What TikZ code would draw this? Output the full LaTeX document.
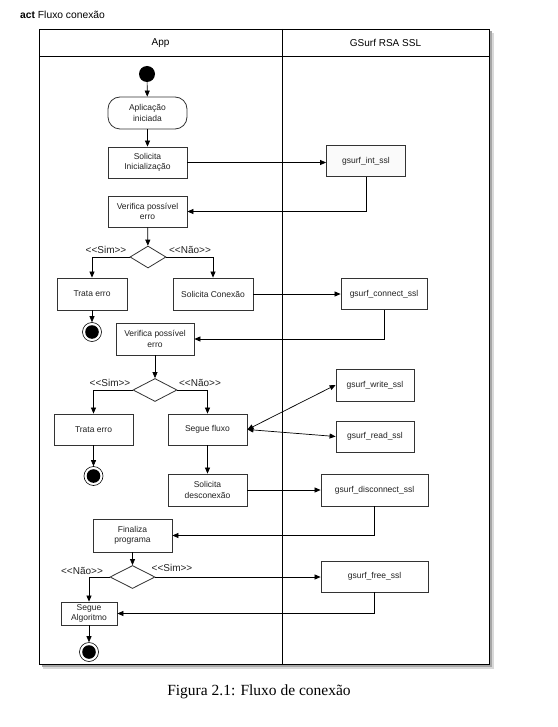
\documentclass[tikz,border=0pt]{standalone}
\usepackage{fontspec}
\setmainfont{Liberation Sans}
\newfontfamily\capfont{Liberation Serif}
\usetikzlibrary{arrows.meta,shapes.geometric,calc}
\definecolor{boxline}{HTML}{333333}
\definecolor{boxtext}{HTML}{222222}
\tikzset{
  act/.style={draw=boxline, line width=0.8pt, fill=white, align=center, inner sep=1pt,
    text=boxtext, font=\fontsize{8.5}{10.5}\selectfont},
  rbox/.style={act, rounded corners=12pt},
  dec/.style={diamond, draw=boxline, line width=0.8pt, fill=white, inner sep=0pt},
  startnode/.style={circle, fill=black, minimum size=16pt, inner sep=0pt},
  endnode/.style={circle, draw=black, line width=0.6pt, fill=white, minimum size=19pt, inner sep=0pt,
    path picture={\fill[black] (path picture bounding box.center) circle (6.8pt);}},
  flow/.style={line width=0.7pt, -{Triangle[length=6pt,width=5pt]}},
  dflow/.style={line width=0.7pt, {Triangle[length=6pt,width=5pt]}-{Triangle[length=6pt,width=5pt]}},
  guard/.style={font=\fontsize{10}{12}\selectfont, text=boxtext, inner sep=0pt},
}
\begin{document}
\begin{tikzpicture}[x=1pt,y=-1pt]
\useasboundingbox (0,0) rectangle (557,727);
% title
\node[anchor=west, font=\fontsize{10.3}{12}\selectfont, inner sep=0pt] (title) at (20,15) {\textbf{act} Fluxo conexão};
% frame shadow
\fill[black!15] (43,33) rectangle (494,669);
\fill[black!35] (41.5,31.5) rectangle (491.5,666.5);
\fill[black!60] (40.5,30.5) rectangle (490.2,665.2);
\draw[fill=white, line width=0.8pt] (39,29) rectangle (489,664);
\draw[line width=0.8pt] (39,56) -- (489,56);
\draw[line width=0.8pt] (282,29) -- (282,664);
\node[font=\fontsize{10}{12}\selectfont] (lapp) at (160.5,43) {App};
\node[font=\fontsize{10}{12}\selectfont] (lgs) at (385.5,43) {GSurf RSA SSL};

% nodes
\node[startnode] (start) at (147,74) {};
\node[rbox, minimum width=79pt, minimum height=32pt] (aplic) at (147.5,113) {Aplicação\\iniciada};
\node[act, minimum width=79pt, minimum height=31pt] (solinit) at (147.5,162.5) {Solicita\\Inicialização};
\node[act, fill=black!2, minimum width=79pt, minimum height=31pt] (gint) at (366,161) {gsurf\_int\_ssl};
\node[act, minimum width=79pt, minimum height=31pt] (verif1) at (147.5,211.5) {Verifica possível\\erro};
\node[dec, minimum width=36pt, minimum height=22pt] (d1) at (148,257) {};
\node[act, minimum width=70pt, minimum height=32pt] (trata1) at (92,294) {Trata erro};
\node[act, minimum width=80pt, minimum height=32pt] (solcon) at (213,294) {Solicita Conexão};
\node[endnode] (end1) at (92,332) {};
\node[act, minimum width=86pt, minimum height=31pt] (gconn) at (384,294) {gsurf\_connect\_ssl};
\node[act, minimum width=78pt, minimum height=32pt] (verif2) at (155,339) {Verifica possível\\erro};
\node[dec, minimum width=44pt, minimum height=23pt] (d2) at (155,390) {};
\node[act, minimum width=79pt, minimum height=31pt] (trata2) at (93.5,429.5) {Trata erro};
\node[endnode] (end2) at (93.5,476) {};
\node[act, minimum width=79pt, minimum height=31pt] (segue) at (207.5,429.5) {Segue fluxo};
\node[act, minimum width=78pt, minimum height=32pt] (gwrite) at (375,385) {gsurf\_write\_ssl};
\node[act, minimum width=78pt, minimum height=31pt] (gread) at (375,436.5) {gsurf\_read\_ssl};
\node[act, minimum width=79pt, minimum height=32pt] (soldesc) at (207.5,490) {Solicita\\desconexão};
\node[act, minimum width=107pt, minimum height=32pt] (gdisc) at (374.5,490) {gsurf\_disconnect\_ssl};
\node[act, minimum width=79pt, minimum height=33pt] (final) at (132.5,535.5) {Finaliza\\programa};
\node[dec, minimum width=45pt, minimum height=23pt] (d3) at (132.5,577) {};
\node[act, minimum width=56pt, minimum height=23pt] (galg) at (89,613.5) {Segue\\Algoritmo};
\node[endnode] (end3) at (89,652) {};
\node[act, minimum width=107pt, minimum height=31pt] (gfree) at (374.5,576.5) {gsurf\_free\_ssl};

% guards
\node[guard] (g1s) at (106,250) {<{}<Sim>{}>};
\node[guard] (g1n) at (190,250) {<{}<Não>{}>};
\node[guard] (g2s) at (110,383) {<{}<Sim>{}>};
\node[guard] (g2n) at (200,383) {<{}<Não>{}>};
\node[guard] (g3n) at (82,571) {<{}<Não>{}>};
\node[guard] (g3s) at (172,568) {<{}<Sim>{}>};

% connectors
\draw[flow] (start) -- (aplic);
\draw[flow] (aplic) -- (solinit);
\draw[flow] (solinit.east) -- (solinit.east -| gint.west);
\draw[flow] (gint.south) |- (verif1.east);
\draw[flow] (verif1) -- (d1);
\draw[flow] (d1.west) -| (trata1.north);
\draw[flow] (d1.east) -| (solcon.north);
\draw[flow] (trata1) -- (end1);
\draw[flow] (solcon.east) -- (solcon.east -| gconn.west);
\draw[flow] (gconn.south) |- (verif2.east);
\draw[flow] (verif2) -- (d2);
\draw[flow] (d2.west) -| (trata2.north);
\draw[flow] (d2.east) -| (segue.north);
\draw[flow] (trata2) -- (end2);
\draw[dflow] (segue.east) -- (gwrite.west);
\draw[dflow] (segue.east) -- (gread.west);
\draw[flow] (segue) -- (soldesc);
\draw[flow] (soldesc.east) -- (gdisc.west);
\draw[flow] (gdisc.south) |- (final.east);
\draw[flow] (final) -- (d3);
\draw[flow] (d3.west) -| (galg.north);
\draw[flow] (d3.east) -- (d3.east -| gfree.west);
\draw[flow] (galg) -- (end3);
\draw[flow] (gfree.south) |- (galg.east);

% caption
\node[font=\capfont\fontsize{15.5}{18}\selectfont, inner sep=0pt] (cap) at (259,692) {Figura 2.1: Fluxo de conexão};
\end{tikzpicture}
\end{document}
